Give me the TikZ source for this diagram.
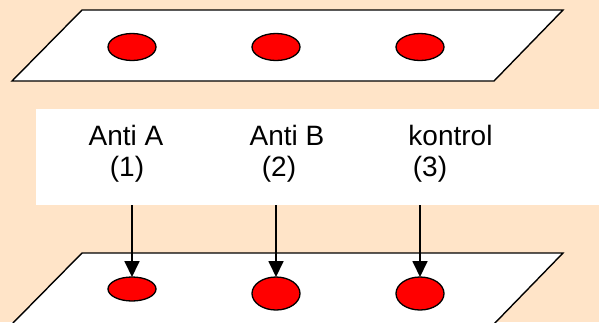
\documentclass[tikz,border=0pt]{standalone}
\usepackage{fontspec}
\setmainfont{Liberation Sans}
\usetikzlibrary{shapes.geometric,arrows.meta}
\definecolor{peach}{RGB}{255,228,200}
\definecolor{dotred}{RGB}{255,0,0}
\tikzset{
  slide/.style={draw=black,fill=white,line width=1.4pt,line join=miter},
  dot/.style={ellipse,draw=black,fill=dotred,line width=1.3pt,inner sep=0pt,outer sep=0pt,minimum width=48pt},
  lbl/.style={font=\fontsize{28}{32}\selectfont,inner sep=0pt,anchor=base},
  drop/.style={line width=1.8pt,-{Triangle[width=15pt,length=16pt]}}
}
\begin{document}
\begin{tikzpicture}[x=1pt,y=-1pt]
\useasboundingbox (0,0) rectangle (599,322);
\fill[peach] (0,0) rectangle (599,322);
\clip (0,0) rectangle (599,322);
% top slide
\draw[slide] (82,10) -- (563,10) -- (494,81) -- (12,81) -- cycle;
\node[dot,minimum height=27pt] (t1) at (132,47) {};
\node[dot,minimum height=27pt] (t2) at (276,47) {};
\node[dot,minimum height=27pt] (t3) at (420,47) {};
% label panel
\fill[white] (36,109) rectangle (600,204.5);
\node[lbl] (la) at (126,145) {Anti A};
\node[lbl] (lb) at (287,145) {Anti B};
\node[lbl] (lc) at (450.5,145) {kontrol};
\node[lbl] (na) at (127,176) {(1)};
\node[lbl] (nb) at (279,176) {(2)};
\node[lbl] (nc) at (430,176) {(3)};
% bottom slide
\draw[slide] (82,253) -- (563,253) -- (494,324) -- (12,324) -- cycle;
\node[dot,minimum height=24pt] (b1) at (132,289) {};
\node[dot,minimum height=33pt] (b2) at (276,293.5) {};
\node[dot,minimum height=33pt] (b3) at (420,293.5) {};
% arrows
\coordinate (s1) at (132,205);
\coordinate (s2) at (276,205);
\coordinate (s3) at (420,205);
\draw[drop] (s1) -- (b1.north);
\draw[drop] (s2) -- (b2.north);
\draw[drop] (s3) -- (b3.north);
\end{tikzpicture}
\end{document}
